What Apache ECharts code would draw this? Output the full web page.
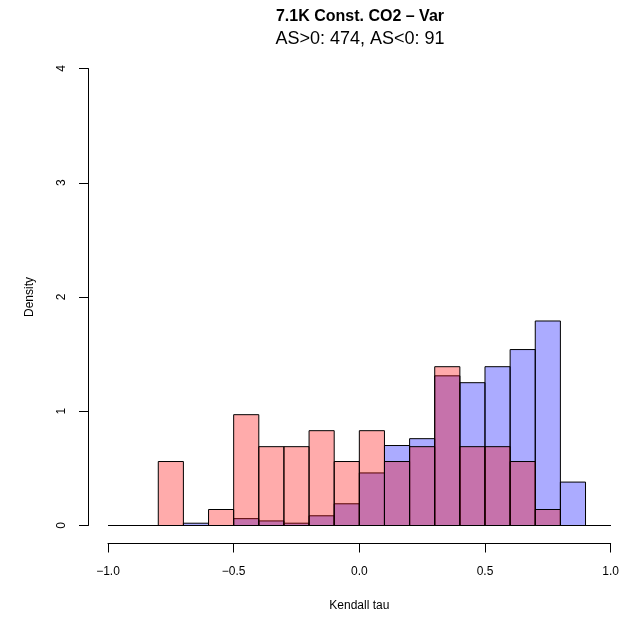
<!DOCTYPE html>
<html>
<head>
<meta charset="UTF-8">
<title>7.1K Const. CO2 - Var</title>
<script src="https://cdn.jsdelivr.net/npm/echarts@6/dist/echarts.min.js"></script>
<style>
  html, body { margin: 0; padding: 0; background: #fff; }
  #chart { width: 622px; height: 619px; }
</style>
</head>
<body>
<div id="chart"></div>
<script>
// histogram bins (left edges, width 0.1)
var binStart = [-1.0, -0.9, -0.8, -0.7, -0.6, -0.5, -0.4, -0.3, -0.2, -0.1,
                 0.0,  0.1,  0.2,  0.3,  0.4,  0.5,  0.6,  0.7,  0.8,  0.9];
var binWidth = 0.1;
// density, AS>0 (blue)
var densPos = [0, 0, 0, 0.02, 0, 0.06, 0.04, 0.02, 0.085, 0.19,
               0.46, 0.70, 0.76, 1.31, 1.25, 1.39, 1.54, 1.79, 0.38, 0];
// density, AS<0 (red)
var densNeg = [0, 0, 0.56, 0, 0.14, 0.97, 0.69, 0.69, 0.83, 0.56,
               0.83, 0.56, 0.69, 1.39, 0.69, 0.69, 0.56, 0.14, 0, 0];
var xTicks = [-1.0, -0.5, 0.0, 0.5, 1.0];
var yTicks = [0, 1, 2, 3, 4];

var FONT = '"Liberation Sans", Arial, Helvetica, sans-serif';

function toBins(vals) {
    return binStart.map(function (b, i) { return [b, b + binWidth, vals[i]]; });
}

function histRender(fill) {
    return function (params, api) {
        var p0 = api.coord([api.value(0), 0]);
        var p1 = api.coord([api.value(1), api.value(2)]);
        return {
            type: 'rect',
            shape: { x: p0[0], y: p1[1], width: p1[0] - p0[0], height: p0[1] - p1[1] },
            style: { fill: fill, stroke: '#000', lineWidth: 1 }
        };
    };
}

var chart = echarts.init(document.getElementById('chart'));
chart.setOption({
    animation: false,
    backgroundColor: '#fff',
    textStyle: { fontFamily: FONT },
    graphic: [
        { type: 'text', x: 360, y: 9, style: { text: '7.1K Const. CO2 \u2013 Var', font: 'bold 16px ' + FONT, fill: '#000', textAlign: 'center' } },
        { type: 'text', x: 360, y: 30, style: { text: 'AS>0: 474, AS<0: 91', font: '18px ' + FONT, fill: '#000', textAlign: 'center' } }
    ],
    grid: { left: 108, right: 10, top: 68.5, bottom: 93.5 },
    xAxis: {
        type: 'value',
        min: xTicks[0], max: xTicks[xTicks.length - 1], interval: 0.5,
        offset: 18,
        name: 'Kendall tau', nameLocation: 'middle', nameGap: 56,
        nameTextStyle: { fontSize: 12, color: '#000', fontFamily: FONT },
        axisLine: { show: true, onZero: false, lineStyle: { color: '#000', width: 1 } },
        axisTick: { show: true, length: 9, lineStyle: { color: '#000' } },
        axisLabel: { color: '#000', fontSize: 12, margin: 22, fontFamily: FONT,
            formatter: function (v) { return v.toFixed(1).replace('-', '\u2212'); } },
        splitLine: { show: false }
    },
    yAxis: {
        type: 'value',
        min: yTicks[0], max: yTicks[yTicks.length - 1], interval: 1,
        offset: 20,
        name: 'Density', nameLocation: 'middle', nameGap: 52,
        nameTextStyle: { fontSize: 12, color: '#000', fontFamily: FONT },
        axisLine: { show: true, onZero: false, lineStyle: { color: '#000', width: 1 } },
        axisTick: { show: true, length: 9, lineStyle: { color: '#000' } },
        axisLabel: { color: '#000', fontSize: 12, margin: 20, rotate: 90, fontFamily: FONT },
        splitLine: { show: false }
    },
    series: [
        { type: 'custom', name: 'AS>0', renderItem: histRender('rgba(0,0,255,0.33)'),
          encode: { x: [0, 1], y: 2 }, data: toBins(densPos), clip: false },
        { type: 'custom', name: 'AS<0', renderItem: histRender('rgba(255,0,0,0.33)'),
          encode: { x: [0, 1], y: 2 }, data: toBins(densNeg), clip: false }
    ]
});
</script>
</body>
</html>
